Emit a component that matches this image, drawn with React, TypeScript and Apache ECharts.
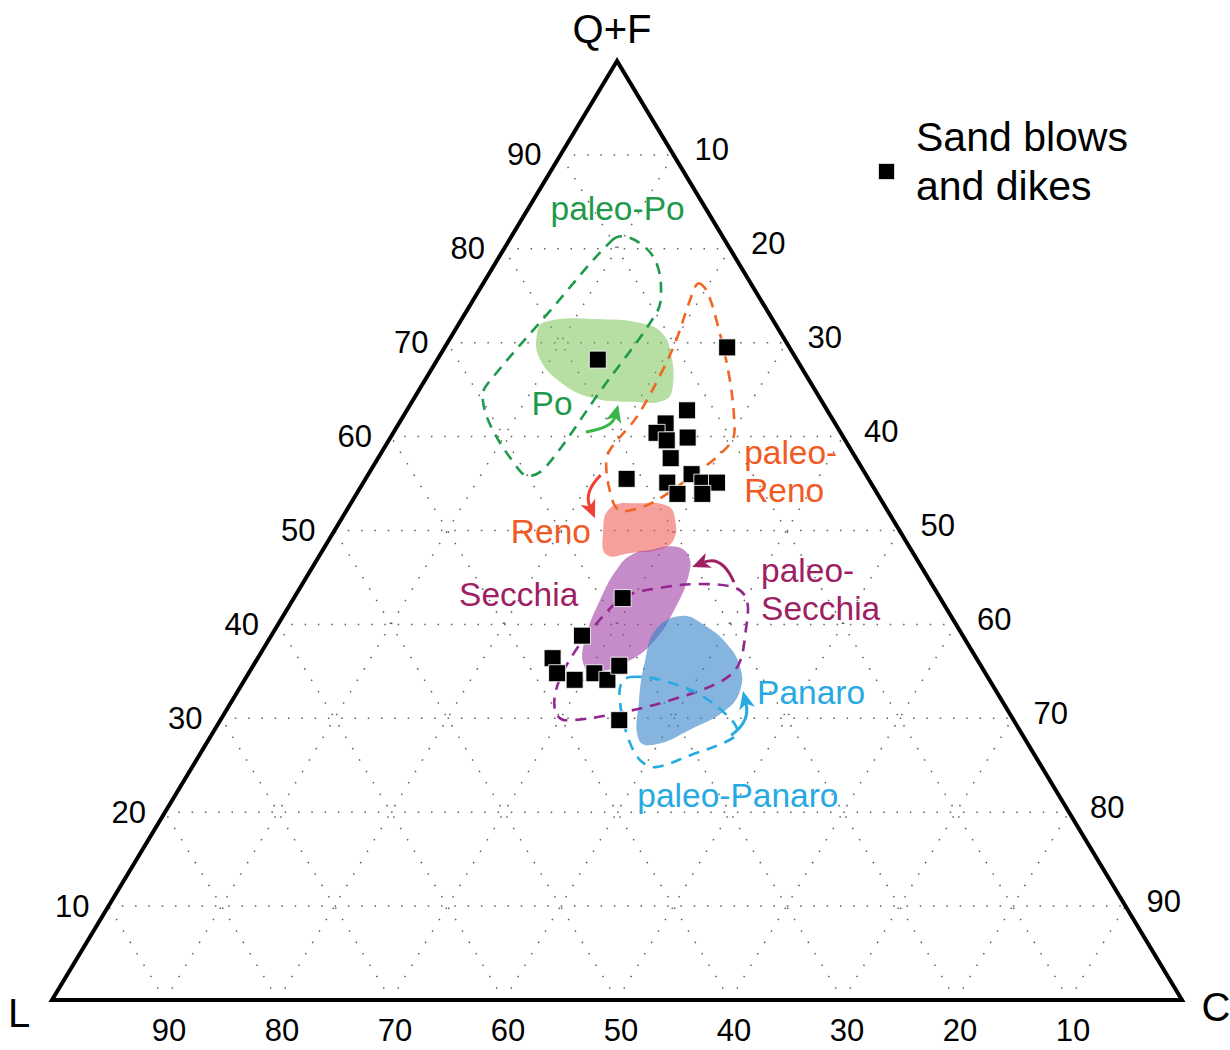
import React, { useEffect, useRef } from "react";
import * as echarts from "echarts";

// Compositions are [Q+F %, C %]; L % = 100 - Q+F - C.
type Tern = [number, number];

const TICKS = [10, 20, 30, 40, 50, 60, 70, 80, 90];

const sandBlows: Tern[] = [
  [68.2, 14.2], [69.5, 25.0], [62.8, 24.8], [61.4, 23.6], [60.4, 23.3],
  [59.6, 24.6], [59.9, 26.3], [57.7, 25.9], [55.5, 23.1], [55.1, 26.9],
  [53.9, 28.4], [56.0, 28.6], [55.1, 30.0], [55.1, 31.3], [53.9, 30.6],
  [42.8, 29.1], [38.8, 27.5], [36.4, 26.1], [34.8, 27.3], [34.1, 29.2],
  [34.8, 30.6], [34.1, 32.1], [35.6, 32.4], [29.8, 35.3],
];

// Modern river sand fields
const poField: Tern[] = [
  [72.2, 7.5], [72.5, 12.2], [72.0, 16.5], [71.0, 18.5], [69.2, 20.1], [65.5, 22.2],
  [63.9, 22.3], [63.7, 19.4], [64.2, 15.5], [65.8, 12.1], [68.2, 9.1], [70.8, 7.5],
];
const renoField: Tern[] = [
  [52.4, 23.2], [52.9, 25.5], [52.6, 28.2], [51.1, 29.6], [49.0, 30.5],
  [48.0, 29.8], [47.6, 27.4], [47.4, 25.4], [49.5, 24.0],
];
const secchiaField: Tern[] = [
  [47.9, 28.9], [48.3, 30.9], [47.4, 32.6], [45.3, 33.7], [41.5, 34.3], [38.3, 34.2],
  [36.2, 33.1], [34.9, 30.6], [35.7, 29.2], [38.3, 28.0], [42.6, 27.2], [46.3, 27.1], [47.6, 27.8],
];
const panaroField: Tern[] = [
  [40.9, 35.2], [39.9, 37.8], [37.8, 40.9], [35.4, 43.2], [33.0, 44.4], [30.9, 44.2],
  [28.8, 42.1], [27.2, 39.8], [27.7, 38.1], [31.9, 36.0], [36.2, 34.4], [39.4, 33.7],
];

// Paleo-river sand fields
const paleoPo: Tern[] = [
  [80.9, 9.1], [81.3, 10.1], [80.1, 12.5], [78.3, 14.4], [75.6, 16.1], [73.3, 16.9],
  [64.9, 16.1], [56.7, 15.3], [55.8, 14.2], [56.9, 12.6], [61.2, 8.2], [64.4, 5.9],
  [66.0, 5.8], [73.5, 7.4],
];
const paleoReno: Tern[] = [
  [76.3, 19.0], [75.6, 20.1], [72.4, 22.6], [66.3, 26.8], [61.2, 29.8], [59.6, 30.4],
  [57.8, 29.9], [56.4, 29.1], [53.2, 26.9], [52.2, 25.3], [52.2, 24.0], [54.3, 22.2],
  [57.5, 20.3], [58.9, 20.1], [62.1, 20.7], [67.1, 20.5], [70.3, 20.1], [74.5, 19.2],
];
const paleoSecchia: Tern[] = [
  [42.9, 29.2], [43.9, 31.9], [44.3, 35.1], [43.9, 38.5], [42.6, 40.2], [39.4, 41.7],
  [35.7, 42.9], [33.9, 42.2], [31.9, 38.7], [30.6, 35.0], [29.8, 30.5], [30.7, 29.2],
  [33.0, 28.1], [36.2, 27.7], [39.9, 28.1],
];
const paleoPanaro: Tern[] = [
  [34.4, 34.0], [34.1, 36.8], [32.5, 41.1], [30.0, 45.0], [28.5, 46.4], [27.5, 45.9],
  [26.1, 43.5], [24.8, 41.0], [25.6, 39.2], [28.2, 36.8], [31.9, 34.3], [33.8, 33.5],
];

// Shift arrows: start, control, tip
const arrowPo: Tern[] = [[60.5, 17.0], [60.9, 19.1], [63.4, 18.4]];
const arrowReno: Tern[] = [[55.9, 20.6], [54.1, 20.0], [51.3, 22.4]];
const arrowSecchia: Tern[] = [[44.5, 38.1], [47.4, 35.6], [46.1, 33.6]];
const arrowPanaro: Tern[] = [[28.2, 46.0], [29.6, 47.0], [32.9, 44.7]];

// Field names and their anchor compositions
const fieldLabels: { text: string; at: Tern }[] = [
  { text: "paleo-Po", at: [84.3, 7.9] },
  { text: "Po", at: [63.5, 12.5] },
  { text: "paleo-\nReno", at: [56.3, 33.1] },
  { text: "Reno", at: [49.9, 19.2] },
  { text: "Secchia", at: [43.2, 19.7] },
  { text: "paleo-\nSecchia", at: [43.7, 40.9] },
  { text: "Panaro", at: [32.8, 46.0] },
  { text: "paleo-Panaro", at: [21.8, 49.8] },
];

const FONT = '"Liberation Sans", Arial, sans-serif';
const GREEN = "#1e9a4c";
const ORANGE = "#f15a24";
const MAGENTA = "#9e1f63";
const PURPLE = "#93278f";
const BLUE = "#27aae1";

const toXY = (p: Tern): [number, number] => [p[1] + p[0] / 2, p[0]];

function shapeSeries(pts: Tern[], style: any, smooth: number) {
  return {
    type: "custom",
    coordinateSystem: "cartesian2d",
    clip: false,
    silent: true,
    data: pts.map(toXY),
    renderItem: (params: any, api: any) => {
      if (params.dataIndex !== 0) return null;
      const points = pts.map((p) => api.coord(toXY(p)));
      return { type: "polygon", shape: { points, smooth }, style };
    },
  };
}

function arrowSeries(pts: Tern[], color: string) {
  return {
    type: "custom",
    coordinateSystem: "cartesian2d",
    clip: false,
    silent: true,
    data: pts.map(toXY),
    renderItem: (params: any, api: any) => {
      if (params.dataIndex !== 0) return null;
      const [s, c, t] = pts.map((p) => api.coord(toXY(p)));
      const dx = t[0] - c[0];
      const dy = t[1] - c[1];
      const len = Math.hypot(dx, dy) || 1;
      const ux = dx / len;
      const uy = dy / len;
      const head = 18;
      const half = 8;
      const base = [t[0] - ux * head, t[1] - uy * head];
      const notch = [base[0] + ux * 5, base[1] + uy * 5];
      return {
        type: "group",
        children: [
          {
            type: "bezierCurve",
            shape: { x1: s[0], y1: s[1], x2: notch[0], y2: notch[1], cpx1: c[0], cpy1: c[1] },
            style: { stroke: color, lineWidth: 3, fill: "none" },
          },
          {
            type: "polygon",
            shape: {
              points: [
                t,
                [base[0] - uy * half, base[1] + ux * half],
                notch,
                [base[0] + uy * half, base[1] - ux * half],
              ],
            },
            style: { fill: color },
          },
        ],
      };
    },
  };
}

function textSeries(
  anchors: Tern[],
  texts: string[],
  place: (p: number[], i: number) => { x: number; y: number },
  style: any,
  colors?: string[],
  aligns?: string[]
) {
  return {
    type: "custom",
    coordinateSystem: "cartesian2d",
    clip: false,
    silent: true,
    data: anchors.map(toXY),
    renderItem: (params: any, api: any) => {
      const i = params.dataIndex;
      const p = api.coord(toXY(anchors[i]));
      const pos = place(p, i);
      return {
        type: "text",
        x: pos.x,
        y: pos.y,
        style: {
          ...style,
          text: texts[i],
          fill: colors ? colors[i] : style.fill,
          align: aligns ? aligns[i] : style.align,
        },
      };
    },
  };
}

// Dotted grid: lines of constant Q+F, C and L every 10 %
const gridSegments: [Tern, Tern][] = [];
TICKS.forEach((k) => {
  gridSegments.push([[k, 0], [k, 100 - k]]);
  gridSegments.push([[0, k], [100 - k, k]]);
  gridSegments.push([[0, 100 - k], [100 - k, 0]]);
});

const vertices: Tern[] = [[100, 0], [0, 0], [0, 100]];

export default function App() {
  const ref = useRef<HTMLDivElement>(null);

  useEffect(() => {
    if (!ref.current) return;
    const chart = echarts.init(ref.current, undefined, { renderer: "svg" });

    const tickStyle = { fontSize: 31, fontFamily: FONT, fill: "#000", verticalAlign: "middle" };
    const fieldStyle = { fontSize: 33.5, fontFamily: FONT, lineHeight: 38, verticalAlign: "middle" };

    const option: any = {
      animation: false,
      backgroundColor: "#fff",
      grid: { left: 52, top: 61, width: 1130, height: 939 },
      xAxis: { type: "value", min: 0, max: 100, show: false },
      yAxis: { type: "value", min: 0, max: 100, show: false },
      legend: {
        data: ["Sand blows and dikes"],
        left: 872,
        top: 111,
        icon: "rect",
        itemWidth: 17,
        itemHeight: 17,
        selectedMode: false,
        // a short blank third line lifts the two text lines above the marker
        formatter: () => "{a|Sand blows}\n{a|and dikes}\n{b| }",
        textStyle: {
          color: "#000",
          padding: [0, 0, 0, 16],
          rich: {
            a: { fontSize: 41, lineHeight: 49, fontFamily: FONT, color: "#000" },
            b: { fontSize: 8, lineHeight: 21, fontFamily: FONT },
          },
        },
      },
      series: [
        {
          type: "custom",
          coordinateSystem: "cartesian2d",
          clip: false,
          silent: true,
          data: gridSegments.map((s) => toXY(s[0])),
          renderItem: (params: any, api: any) => {
            const [a, b] = gridSegments[params.dataIndex];
            const p1 = api.coord(toXY(a));
            const p2 = api.coord(toXY(b));
            return {
              type: "line",
              shape: { x1: p1[0], y1: p1[1], x2: p2[0], y2: p2[1] },
              style: { stroke: "#5e5e5e", lineWidth: 1.5, lineDash: [1.5, 11.8] },
            };
          },
        },
        shapeSeries(poField, { fill: "rgba(112,190,72,0.5)" }, 0.45),
        shapeSeries(renoField, { fill: "rgba(240,92,82,0.58)" }, 0.45),
        shapeSeries(secchiaField, { fill: "rgba(160,64,165,0.6)" }, 0.45),
        shapeSeries(panaroField, { fill: "rgba(52,132,200,0.6)" }, 0.45),
        shapeSeries(paleoPo, { fill: "none", stroke: GREEN, lineWidth: 2.6, lineDash: [11, 8] }, 0.35),
        shapeSeries(paleoReno, { fill: "none", stroke: "#f26522", lineWidth: 2.6, lineDash: [11, 8] }, 0.35),
        shapeSeries(paleoSecchia, { fill: "none", stroke: PURPLE, lineWidth: 2.6, lineDash: [11, 8] }, 0.35),
        shapeSeries(paleoPanaro, { fill: "none", stroke: BLUE, lineWidth: 2.6, lineDash: [11, 8] }, 0.35),
        arrowSeries(arrowPo, "#39b54a"),
        arrowSeries(arrowReno, "#ef4136"),
        arrowSeries(arrowSecchia, MAGENTA),
        arrowSeries(arrowPanaro, BLUE),
        shapeSeries(vertices, { fill: "none", stroke: "#000", lineWidth: 4, lineJoin: "miter" }, 0),
        {
          name: "Sand blows and dikes",
          type: "scatter",
          symbol: "rect",
          symbolSize: 17,
          data: sandBlows.map(toXY),
          itemStyle: { color: "#000", borderColor: "rgba(255,255,255,0.85)", borderWidth: 1, opacity: 1 },
          z: 5,
        },
        // Q+F ticks on the left side
        textSeries(
          TICKS.map((v) => [v, 0] as Tern),
          TICKS.map(String),
          (p) => ({ x: p[0] - 19, y: p[1] }),
          { ...tickStyle, align: "right" }
        ),
        // C ticks on the right side
        textSeries(
          TICKS.map((v) => [100 - v, v] as Tern),
          TICKS.map(String),
          (p) => ({ x: p[0] + 21, y: p[1] - 5 }),
          { ...tickStyle, align: "left" }
        ),
        // L ticks along the base
        textSeries(
          TICKS.map((v) => [0, 100 - v] as Tern),
          TICKS.map(String),
          (p) => ({ x: p[0] + 4, y: p[1] + 30 }),
          { ...tickStyle, align: "center" }
        ),
        // Apex names
        textSeries(
          vertices,
          ["Q+F", "L", "C"],
          (p, i) =>
            i === 0 ? { x: p[0] - 5, y: p[1] - 32 } : i === 1 ? { x: p[0] - 33, y: p[1] + 13 } : { x: p[0] + 34, y: p[1] + 7 },
          { fontSize: 40, fontFamily: FONT, fill: "#000", verticalAlign: "middle", align: "center" }
        ),
        // Field names
        textSeries(
          fieldLabels.map((l) => l.at),
          fieldLabels.map((l) => l.text),
          (p) => ({ x: p[0], y: p[1] }),
          fieldStyle,
          [GREEN, GREEN, ORANGE, ORANGE, MAGENTA, MAGENTA, BLUE, BLUE],
          ["center", "center", "left", "center", "center", "left", "left", "center"]
        ),
      ],
    };

    chart.setOption(option);
    return () => chart.dispose();
  }, []);

  return (
    <div
      ref={ref}
      style={{ position: "fixed", left: 0, top: 0, width: 1230, height: 1050, background: "#fff" }}
    />
  );
}
